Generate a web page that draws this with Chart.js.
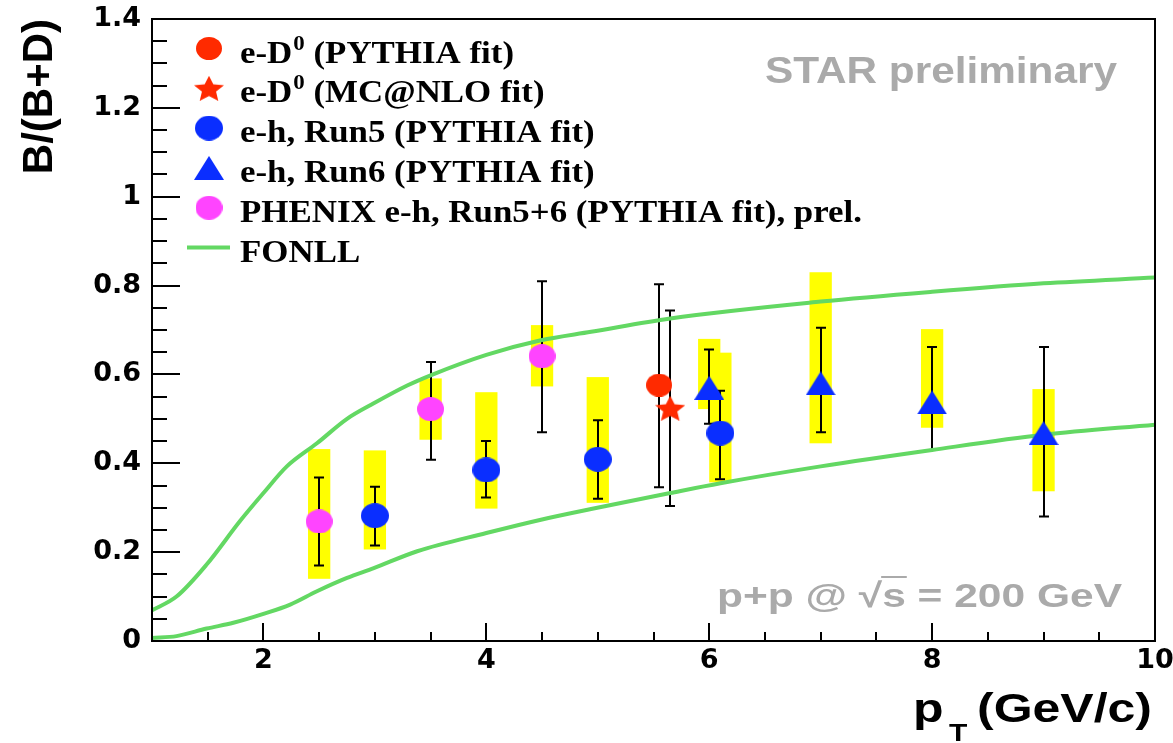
<!DOCTYPE html>
<html>
<head>
<meta charset="utf-8">
<title>B/(B+D) vs pT</title>
<script src="https://cdn.jsdelivr.net/npm/chart.js@4.4.1/dist/chart.umd.min.js"></script>
<style>
  html, body { margin: 0; padding: 0; background: #fff; }
  #zgwrap { width: 1173px; height: 743px; }
</style>
</head>
<body>
<div id="zgwrap"><canvas id="zgchart" width="1173" height="743"></canvas></div>
<script>

//FONLL band edges
var fonllUpperX = [1.0, 1.22, 1.49, 1.79, 2.0, 2.21, 2.48, 2.75, 2.99, 3.29, 3.5, 4.0, 4.49, 4.94, 5.65, 7.0, 8.0, 9.0, 10.0];
var fonllUpperY = [0.069, 0.10, 0.172, 0.27, 0.333, 0.393, 0.445, 0.50, 0.535, 0.575, 0.598, 0.644, 0.677, 0.696, 0.726, 0.764, 0.786, 0.805, 0.818];
var fonllLowerX = [1.0, 1.22, 1.49, 1.73, 2.0, 2.24, 2.48, 2.75, 2.99, 3.38, 4.0, 4.49, 4.94, 5.65, 6.1, 7.0, 8.0, 9.0, 10.0];
var fonllLowerY = [0.007, 0.011, 0.028, 0.041, 0.061, 0.082, 0.112, 0.142, 0.164, 0.202, 0.243, 0.273, 0.297, 0.333, 0.355, 0.393, 0.430, 0.464, 0.487];

//e-D0, PYTHIA fit
var eDPythiaX = [5.55];
var eDPythiaY = [0.576];
var eDPythiaLo = [0.346];
var eDPythiaHi = [0.803];

//e-D0, MC@NLO fit
var eDMcnloX = [5.65];
var eDMcnloY = [0.524];
var eDMcnloLo = [0.304];
var eDMcnloHi = [0.744];

//e-h, Run5
var run5X = [3, 4, 5, 6.1];
var run5Y = [0.282, 0.385, 0.409, 0.468];
var run5Lo = [0.215, 0.323, 0.320, 0.364];
var run5Hi = [0.347, 0.450, 0.497, 0.563];
var run5SysLo = [0.206, 0.298, 0.311, 0.357];
var run5SysHi = [0.429, 0.560, 0.594, 0.649];

//e-h, Run6
var run6X = [6, 7, 8, 9];
var run6Y = [0.570, 0.580, 0.537, 0.468];
var run6Lo = [0.489, 0.470, 0.430, 0.280];
var run6Hi = [0.656, 0.705, 0.662, 0.662];
var run6SysLo = [0.522, 0.445, 0.480, 0.337];
var run6SysHi = [0.680, 0.830, 0.702, 0.567];

//PHENIX e-h, Run5+6
var phenixX = [2.5, 3.5, 4.5];
var phenixY = [0.269, 0.522, 0.641];
var phenixLo = [0.170, 0.408, 0.470];
var phenixHi = [0.368, 0.628, 0.810];
var phenixSysLo = [0.140, 0.453, 0.573];
var phenixSysHi = [0.432, 0.591, 0.711];

//axes
var xTickValues = [2, 4, 6, 8, 10];
var xTickLabels = ['2', '4', '6', '8', '10'];
var yTickValues = [0, 0.2, 0.4, 0.6, 0.8, 1, 1.2, 1.4];
var yTickLabels = ['0', '0.2', '0.4', '0.6', '0.8', '1', '1.2', '1.4'];

var legendLabels = ['e-D^{0} (PYTHIA fit)', 'e-D^{0} (MC@NLO fit)', 'e-h, Run5 (PYTHIA fit)', 'e-h, Run6 (PYTHIA fit)', 'PHENIX e-h, Run5+6 (PYTHIA fit), prel.', 'FONLL'];

var zggreen = '#63d863';
var zgyellow = '#ffff00';
var zgpink = '#ff44ff';
var zgblue = '#0a2eff';
var zgred = '#ff2a00';
var zggray = '#aaaaaa';

function zgpoints(xs, ys) {
  return xs.map(function(x, i) { return {x: x, y: ys[i]}; });
}

//marker pictures (the figure is a bit wider than tall)
function zgmarker(shape, color, w, h) {
  var c = document.createElement('canvas');
  c.width = w; c.height = h;
  var g = c.getContext('2d');
  g.fillStyle = color;
  g.beginPath();
  if (shape == 'circle') {
    g.ellipse(w / 2, h / 2, w / 2, h / 2, 0, 0, 2 * Math.PI);
  } else if (shape == 'triangle') {
    g.moveTo(w / 2, 0); g.lineTo(w, h); g.lineTo(0, h); g.closePath();
  } else {
    var ry = h / 1.81, rx = w / 2 / 0.951;
    for (var k = 0; k < 10; k++) {
      var a = -Math.PI / 2 + k * Math.PI / 5;
      var r = k % 2 ? 0.47 : 1;
      var px = w / 2 + Math.cos(a) * r * rx, py = ry + Math.sin(a) * r * ry;
      if (k == 0) g.moveTo(px, py); else g.lineTo(px, py);
    }
    g.closePath();
  }
  g.fill();
  return c;
}

var markRed = zgmarker('circle', zgred, 26, 23);
var markStar = zgmarker('star', zgred, 30, 25);
var markBlue = zgmarker('circle', zgblue, 28, 25);
var markTri = zgmarker('triangle', zgblue, 30, 24);
var markPink = zgmarker('circle', zgpink, 27, 24);

var legendMarks = [markRed, markStar, markBlue, markTri, markPink, null];

//systematic boxes and error bars
var zgbars = {
  id: 'zgbars',
  beforeDatasetsDraw: function(chart) {
    var ctx = chart.ctx, xs = chart.scales.x, ys = chart.scales.y;
    var boxHalf = 0.1;
    ctx.save();
    chart.data.datasets.forEach(function(ds) {
      if (!ds.sysLo) return;
      ctx.fillStyle = zgyellow;
      ds.data.forEach(function(p, i) {
        var x0 = xs.getPixelForValue(p.x - boxHalf), x1 = xs.getPixelForValue(p.x + boxHalf);
        var y0 = ys.getPixelForValue(ds.sysHi[i]), y1 = ys.getPixelForValue(ds.sysLo[i]);
        ctx.fillRect(x0, y0, x1 - x0, y1 - y0);
      });
    });
    ctx.strokeStyle = '#000';
    ctx.lineWidth = 2;
    chart.data.datasets.forEach(function(ds) {
      if (!ds.errLo) return;
      ds.data.forEach(function(p, i) {
        var px = Math.round(xs.getPixelForValue(p.x));
        var yt = ys.getPixelForValue(ds.errHi[i]), yb = ys.getPixelForValue(ds.errLo[i]);
        ctx.beginPath();
        ctx.moveTo(px, yt); ctx.lineTo(px, yb);
        ctx.moveTo(px - 5, yt); ctx.lineTo(px + 5, yt);
        ctx.moveTo(px - 5, yb); ctx.lineTo(px + 5, yb);
        ctx.stroke();
      });
    });
    ctx.restore();
  }
};

//frame with inward ticks
var zgframe = {
  id: 'zgframe',
  afterDatasetsDraw: function(chart) {
    var ctx = chart.ctx, a = chart.chartArea, xs = chart.scales.x, ys = chart.scales.y;
    ctx.save();
    ctx.strokeStyle = '#000';
    ctx.lineWidth = 2;
    ctx.strokeRect(a.left, a.top, a.right - a.left, a.bottom - a.top);
    ctx.beginPath();
    for (var i = 1; i < 28; i++) {
      var py = Math.round(ys.getPixelForValue(i * 0.05));
      ctx.moveTo(a.left, py); ctx.lineTo(a.left + (i % 4 == 0 ? 28 : 15), py);
    }
    for (var j = 3; j < 20; j++) {
      var px = Math.round(xs.getPixelForValue(j * 0.5));
      ctx.moveTo(px, a.bottom); ctx.lineTo(px, a.bottom - (j % 4 == 0 ? 18 : 9));
    }
    ctx.stroke();
    ctx.restore();
  }
};

function zgstretch(ctx, text, x, y, sx) {
  ctx.save();
  ctx.translate(x, y);
  ctx.scale(sx, 1);
  ctx.textAlign = 'left';
  ctx.textBaseline = 'alphabetic';
  ctx.fillText(text, 0, 0);
  ctx.restore();
  return ctx.measureText(text).width * sx;
}

//legend, labels and x title
var zgtext = {
  id: 'zgtext',
  afterDraw: function(chart) {
    var ctx = chart.ctx;
    ctx.save();

    //legend
    ctx.fillStyle = '#000';
    ctx.font = 'bold 32px "Liberation Serif"';
    var legendSx = 622 / ctx.measureText(legendLabels[4]).width;
    legendLabels.forEach(function(label, i) {
      var base = 62.5 + i * 39.8;
      var cy = base - 14;
      var mark = legendMarks[i];
      if (mark) {
        ctx.drawImage(mark, 209 - mark.width / 2, cy - mark.height / 2);
      } else {
        ctx.strokeStyle = zggreen;
        ctx.lineWidth = 4;
        ctx.beginPath(); ctx.moveTo(187, cy); ctx.lineTo(230, cy); ctx.stroke();
      }
      var x = 240;
      label.split(/(\^\{[^}]*\})/).forEach(function(part) {
        if (!part) return;
        if (part.charAt(0) == '^') {
          ctx.font = 'bold 21px "Liberation Serif"';
          x += zgstretch(ctx, part.slice(2, -1), x + 1, base - 13, legendSx) + 1;
          ctx.font = 'bold 32px "Liberation Serif"';
        } else {
          x += zgstretch(ctx, part, x, base, legendSx);
        }
      });
    });

    //STAR preliminary
    ctx.fillStyle = zggray;
    ctx.font = 'bold 36px "Liberation Sans"';
    var starText = 'STAR preliminary';
    zgstretch(ctx, starText, 765, 83, 352 / ctx.measureText(starText).width);

    //p+p @ sqrt(s) = 200 GeV
    ctx.font = 'bold 34px "Liberation Sans"';
    var ppText = 'p+p @ \u221As = 200 GeV';
    var ppSx = 405 / ctx.measureText(ppText).width;
    zgstretch(ctx, ppText, 717, 607, ppSx);
    var sx0 = 717 + ctx.measureText('p+p @ \u221A').width * ppSx;
    var sx1 = sx0 + ctx.measureText('s').width * ppSx;
    ctx.strokeStyle = zggray;
    ctx.lineWidth = 2;
    ctx.beginPath(); ctx.moveTo(sx0 - 1, 577); ctx.lineTo(sx1 + 1, 577); ctx.stroke();

    //x title
    ctx.fillStyle = '#000';
    ctx.font = 'bold 40px "Liberation Sans"';
    var unitText = '(GeV/c)';
    var titleSx = 175 / ctx.measureText(unitText).width;
    zgstretch(ctx, unitText, 977, 722, titleSx);
    zgstretch(ctx, 'p', 913, 722, titleSx);
    ctx.font = 'bold 24px "Liberation Sans"';
    zgstretch(ctx, 'T', 949, 741, titleSx);

    ctx.restore();
  }
};

var tickFont = {family: 'DejaVu Sans', size: 27, weight: 'bold'};

new Chart(document.getElementById('zgchart'), {
  type: 'scatter',
  data: {
    datasets: [
      {label: 'e-D0 (PYTHIA fit)', data: zgpoints(eDPythiaX, eDPythiaY), errLo: eDPythiaLo, errHi: eDPythiaHi,
        pointStyle: markRed, pointRadius: 12, order: 1},
      {label: 'e-D0 (MC@NLO fit)', data: zgpoints(eDMcnloX, eDMcnloY), errLo: eDMcnloLo, errHi: eDMcnloHi,
        pointStyle: markStar, pointRadius: 12, order: 0},
      {label: 'e-h, Run5 (PYTHIA fit)', data: zgpoints(run5X, run5Y), errLo: run5Lo, errHi: run5Hi, sysLo: run5SysLo, sysHi: run5SysHi,
        pointStyle: markBlue, pointRadius: 12, order: 1},
      {label: 'e-h, Run6 (PYTHIA fit)', data: zgpoints(run6X, run6Y), errLo: run6Lo, errHi: run6Hi, sysLo: run6SysLo, sysHi: run6SysHi,
        pointStyle: markTri, pointRadius: 12, order: 1},
      {label: 'PHENIX e-h, Run5+6 (PYTHIA fit), prel.', data: zgpoints(phenixX, phenixY), errLo: phenixLo, errHi: phenixHi, sysLo: phenixSysLo, sysHi: phenixSysHi,
        pointStyle: markPink, pointRadius: 12, order: 1},
      {label: 'FONLL', data: zgpoints(fonllUpperX, fonllUpperY), showLine: true, borderColor: zggreen, borderWidth: 4,
        pointRadius: 0, cubicInterpolationMode: 'monotone', order: 5},
      {label: 'FONLL low', data: zgpoints(fonllLowerX, fonllLowerY), showLine: true, borderColor: zggreen, borderWidth: 4,
        pointRadius: 0, cubicInterpolationMode: 'monotone', order: 5}
    ]
  },
  options: {
    responsive: false,
    animation: false,
    events: [],
    layout: {padding: {top: 19, right: 18, left: 0, bottom: 0}},
    plugins: {legend: {display: false}, tooltip: {enabled: false}},
    scales: {
      x: {
        type: 'linear', min: 1, max: 10,
        grid: {display: false, drawTicks: false},
        border: {display: false},
        ticks: {padding: 4, color: '#000', font: tickFont, maxRotation: 0, autoSkip: false,
          callback: function(value, index) { return xTickLabels[index]; }},
        afterBuildTicks: function(scale) {
          scale.ticks = xTickValues.map(function(v) { return {value: v}; });
        },
        afterFit: function(scale) {
          scale.height = 102; scale.paddingLeft = 0; scale.paddingRight = 0;
        }
      },
      y: {
        type: 'linear', min: 0, max: 1.4,
        grid: {display: false, drawTicks: false},
        border: {display: false},
        ticks: {padding: 11, color: '#000', font: tickFont, autoSkip: false,
          callback: function(value, index) { return yTickLabels[index]; }},
        afterBuildTicks: function(scale) {
          scale.ticks = yTickValues.map(function(v) { return {value: v}; });
        },
        afterFit: function(scale) {
          scale.width = 152; scale.paddingTop = 0; scale.paddingBottom = 0;
        },
        title: {display: true, text: 'B/(B+D)', align: 'end', color: '#000',
          font: {family: 'Liberation Sans', size: 42, weight: 'bold'}, padding: {top: 15, bottom: 0}}
      }
    }
  },
  plugins: [zgbars, zgframe, zgtext]
});

</script>
</body>
</html>
